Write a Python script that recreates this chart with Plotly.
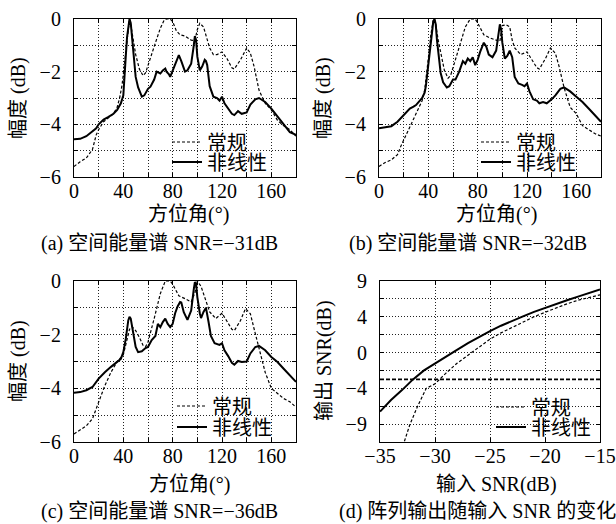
import plotly.graph_objects as go

# ---------------- data ----------------
# (a) SNR = -31 dB
a_conv_x = [0,5,10,13,15,18,20,24,28,32,35,37,39,40,42,44,45,46,48,50,53,56,58,60,65,70,73,75,78,80,83,86,90,95,98,100,102,105,108,110,113,116,120,124,128,130,135,140,143,146,150,155,160,165,170,175,180]
a_conv_y = [-5.6,-5.42,-5.28,-5.1,-4.95,-4.4,-4.2,-3.9,-3.75,-3.6,-3.35,-3.0,-2.5,-2.05,-1.1,-0.25,0,-0.2,-0.85,-1.35,-1.9,-2.15,-2.05,-1.75,-1.05,-0.35,-0.05,0,0,-0.1,-0.45,-0.6,-0.65,-0.8,-0.82,-0.4,-0.16,-0.3,-0.8,-1.1,-1.35,-1.35,-1.25,-1.5,-1.85,-1.9,-1.55,-1.1,-1.3,-1.8,-2.7,-3.2,-3.45,-3.85,-4.05,-4.2,-4.45]
a_nl_x = [0,5,10,15,18,20,24,28,32,35,37,38,40,41,42,43,44,45,46,47,48,50,52,55,57,60,62,65,67,70,72,74,75,77,78,80,82,85,87,90,92,95,97,98,99,100,102,104,106,107,108,110,113,116,118,120,122,125,128,130,133,136,140,143,147,150,155,160,165,170,175,180]
a_nl_y = [-4.57,-4.55,-4.45,-4.25,-4.15,-4.0,-3.82,-3.72,-3.6,-3.45,-3.3,-3.2,-2.9,-2.3,-1.4,-0.7,-0.2,0,-0.15,-0.65,-1.3,-2.2,-2.6,-2.95,-2.9,-2.65,-2.57,-2.3,-2.0,-2.07,-1.95,-1.88,-2.0,-2.1,-2.2,-1.95,-1.7,-1.37,-1.6,-2.0,-1.95,-1.7,-1.05,-0.65,-0.8,-1.43,-1.95,-1.8,-1.55,-1.6,-1.75,-2.55,-2.95,-3.0,-3.1,-2.95,-3.2,-3.4,-3.6,-3.65,-3.5,-3.6,-3.55,-3.25,-3.05,-3.0,-3.15,-3.4,-3.7,-4.0,-4.3,-4.4]

# (b) SNR = -32 dB
b_conv_x = [0,5,10,15,18,20,25,30,35,37,39,40,42,44,45,46,48,50,53,56,58,60,65,70,74,78,80,85,90,95,98,100,103,106,108,110,115,120,124,128,130,135,139,143,146,150,155,160,165,170,175,180]
b_conv_y = [-5.6,-5.45,-5.35,-5.15,-4.8,-4.6,-4.1,-3.6,-3.1,-2.7,-2.0,-1.5,-0.6,-0.05,0,-0.2,-0.8,-1.3,-1.95,-2.25,-2.15,-1.85,-1.05,-0.3,0,0,-0.15,-0.6,-0.72,-0.8,-0.85,-0.25,-0.22,-0.3,-0.8,-1.1,-1.35,-1.25,-1.55,-1.85,-1.9,-1.5,-1.1,-1.3,-1.8,-2.6,-3.35,-3.6,-4.05,-4.2,-4.35,-4.45]
b_nl_x = [0,5,10,15,20,25,28,30,35,37,38,40,41,42,43,44,45,46,47,48,50,52,55,57,60,62,65,68,70,72,74,76,78,80,82,85,87,89,92,95,97,98,99,100,102,104,106,108,110,113,116,118,120,122,125,128,130,133,136,140,143,147,150,155,160,165,170,175,180]
b_nl_y = [-4.15,-4.12,-4.07,-3.9,-3.65,-3.4,-3.33,-3.27,-3.0,-2.8,-2.55,-1.8,-1.3,-0.9,-0.45,-0.1,0,-0.2,-0.8,-1.3,-2.05,-2.4,-2.6,-2.55,-2.3,-2.3,-2.0,-1.6,-1.7,-1.5,-1.6,-1.45,-1.75,-1.55,-1.25,-0.9,-1.05,-1.35,-1.45,-1.2,-0.55,-0.2,-0.4,-0.9,-1.5,-1.4,-1.2,-1.45,-2.2,-2.45,-2.5,-2.55,-2.45,-2.75,-3.05,-3.1,-3.2,-3.15,-3.2,-3.05,-2.9,-2.65,-2.6,-2.75,-2.95,-3.15,-3.4,-3.65,-3.9]

# (c) SNR = -36 dB
c_conv_x = [0,5,10,15,20,25,30,35,40,43,45,47,50,53,56,58,60,65,70,74,78,80,85,90,95,98,100,103,105,108,110,115,120,124,128,130,135,139,143,146,150,155,160,165,170,175,180]
c_conv_y = [-5.7,-5.55,-5.4,-5.13,-4.5,-3.9,-3.4,-3.0,-2.75,-2.2,-1.8,-1.7,-1.85,-2.1,-2.4,-2.45,-2.27,-1.4,-0.47,0,0,-0.12,-0.55,-0.66,-0.78,-0.45,0,-0.2,-0.45,-0.9,-1.15,-1.4,-1.2,-1.5,-1.8,-1.85,-1.47,-1.03,-1.22,-1.78,-2.52,-3.4,-4.0,-4.2,-4.38,-4.5,-4.7]
c_nl_x = [0,5,10,15,20,25,30,35,38,40,42,44,45,46,47,48,50,52,55,58,60,63,66,68,70,72,74,76,78,80,82,84,86,87,89,92,95,97,98,99,100,102,103,105,107,109,111,114,118,120,122,125,128,130,133,136,140,143,147,150,155,160,165,170,175,180]
c_nl_y = [-4.16,-4.14,-4.07,-3.95,-3.64,-3.4,-3.2,-3.02,-2.9,-2.65,-2.15,-1.47,-1.33,-1.4,-1.65,-1.96,-2.46,-2.65,-2.62,-2.5,-2.46,-2.2,-2.05,-1.6,-1.72,-1.53,-1.4,-1.6,-1.72,-1.6,-1.2,-0.95,-0.78,-0.8,-1.16,-1.45,-1.1,-0.35,-0.04,-0.1,-0.6,-1.2,-1.38,-1.15,-1.0,-1.5,-2.05,-2.32,-2.38,-2.32,-2.58,-2.8,-3.05,-3.12,-2.98,-3.02,-3.0,-2.7,-2.46,-2.42,-2.58,-2.83,-3.02,-3.27,-3.52,-3.76]

# (d) output SNR vs input SNR
d_conv_x = [-33.0,-32.8,-32.3,-31.6,-30.8,-30,-29,-28,-27,-26,-25,-24,-23,-22,-21,-20,-19,-18,-17,-16,-15]
d_conv_y = [-11.0,-10.0,-8.1,-6.05,-4.0,-3.5,-2.3,-1.2,-0.3,0.6,1.5,2.2,2.8,3.4,4.0,4.5,5.0,5.45,5.85,6.15,6.45]
d_nl_x = [-35,-34,-33,-32,-31,-30,-29,-28,-27,-26,-25,-24,-23,-22,-21,-20,-19,-18,-17,-16,-15]
d_nl_y = [-6.6,-5.3,-4.2,-3.0,-2.0,-1.2,-0.45,0.3,1.05,1.75,2.4,3.0,3.55,4.05,4.55,5.0,5.45,5.85,6.25,6.65,7.05]
d_thr_x = [-35, -15]
d_thr_y = [-3, -3]

d_ytick_vals = [8, 4, 0, -4, -8]
d_ytick_text = ["9", "4", "0", "\u22124", "\u22129"]

names = ["常规", "非线性"]
captions = ["(a) 空间能量谱 SNR=\u221231dB", "(b) 空间能量谱 SNR=\u221232dB",
            "(c) 空间能量谱 SNR=\u221236dB", "(d) 阵列输出随输入 SNR 的变化"]
xtitles = ["方位角(°)", "方位角(°)", "方位角(°)", "输入 SNR(dB)"]
ytitles = ["幅度 (dB)", "幅度 (dB)", "幅度 (dB)", "输出 SNR(dB)"]

# ---------------- layout geometry (pixels) ----------------
W, H = 616, 524
FONT = "Liberation Serif, Noto Sans CJK SC, serif"
FS = 20
GRID = "#222"
boxes = [(74, 296, 19, 177), (379, 601, 19, 177), (74, 296, 281, 442), (380, 600, 281, 442)]

def px(x):
    return x / W

def py(y):
    return 1 - y / H

fig = go.Figure()

spectra = [(a_conv_x, a_conv_y, a_nl_x, a_nl_y),
           (b_conv_x, b_conv_y, b_nl_x, b_nl_y),
           (c_conv_x, c_conv_y, c_nl_x, c_nl_y),
           (d_conv_x, d_conv_y, d_nl_x, d_nl_y)]

for i, (cx, cy, nx, ny) in enumerate(spectra):
    ax = "" if i == 0 else str(i + 1)
    fig.add_trace(go.Scatter(x=cx, y=cy, mode="lines", name=names[0],
                             line=dict(color="black", width=1.2, dash="3px,2px"),
                             xaxis="x" + ax, yaxis="y" + ax,
                             legend="legend" + ("" if i == 0 else str(2 * i + 1))))
    fig.add_trace(go.Scatter(x=nx, y=ny, mode="lines", name=names[1],
                             line=dict(color="black", width=2),
                             xaxis="x" + ax, yaxis="y" + ax,
                             legend="legend" + str(2 * i + 2)))

fig.add_trace(go.Scatter(x=d_thr_x, y=d_thr_y, mode="lines", showlegend=False,
                         line=dict(color="black", width=1.6, dash="4px,2px"),
                         xaxis="x4", yaxis="y4"))

minor_common = dict(showgrid=True, gridcolor=GRID, gridwidth=1, griddash="1px,2px",
                    ticks="inside", ticklen=4, tickcolor="black")
common = dict(showline=True, mirror="ticks", linecolor="black", linewidth=1.2,
              ticks="inside", ticklen=4, tickcolor="black", tickwidth=1,
              showgrid=True, gridcolor=GRID, gridwidth=1, griddash="1px,2px",
              zeroline=False, tickfont=dict(family=FONT, size=FS, color="black"))

layout = dict(width=W, height=H, margin=dict(l=0, r=0, t=0, b=0, autoexpand=False),
              paper_bgcolor="white", plot_bgcolor="white", showlegend=True)

for i, (x0, x1, y0, y1) in enumerate(boxes):
    ax = "" if i == 0 else str(i + 1)
    xa = dict(common, domain=[px(x0), px(x1)], anchor="y" + ax, ticklabelstandoff=-4)
    ya = dict(common, domain=[py(y1), py(y0)], anchor="x" + ax, ticklabelstandoff=8)
    if i < 3:
        xa.update(range=[0, 180], tick0=0, dtick=40, minor=dict(minor_common, tick0=0, dtick=20))
        ya.update(range=[-6, 0], tick0=0, dtick=2, minor=dict(minor_common, tick0=0, dtick=1))
    else:
        xa.update(range=[-35, -15], tick0=-35, dtick=5)
        ya.update(range=[-10, 8], tickmode="array", tickvals=d_ytick_vals, ticktext=d_ytick_text,
                  minor=dict(minor_common, tick0=0, dtick=2))
    layout["xaxis" + ax] = xa
    layout["yaxis" + ax] = ya

# legends: one entry each, placed in lower right of each panel
leg_pos = [(209, 142), (209, 162), (518, 142), (518, 162),
           (214, 406), (214, 427), (533, 407), (533, 427)]
for k, (tx, ty) in enumerate(leg_pos):
    key = "legend" if k == 0 else "legend" + str(k + 1)
    layout[key] = dict(x=px(tx - 42), y=py(ty), xanchor="left", yanchor="middle",
                       bgcolor="rgba(0,0,0,0)", borderwidth=0,
                       font=dict(family=FONT, size=FS, color="black"))

ann = []
xt_pos = [(188, 215), (496, 215), (189, 484), (497, 484)]
yt_pos = [(18, 98), (323, 98), (18, 361), (324, 361)]
cap_pos = [(160, 243), (468, 243), (160, 511), (477, 511)]
for i in range(4):
    ann.append(dict(text=xtitles[i], x=px(xt_pos[i][0]), y=py(xt_pos[i][1]), xref="paper", yref="paper",
                    showarrow=False, xanchor="center", yanchor="middle",
                    font=dict(family=FONT, size=FS, color="black")))
    ann.append(dict(text=ytitles[i], x=px(yt_pos[i][0]), y=py(yt_pos[i][1]), xref="paper", yref="paper",
                    showarrow=False, xanchor="center", yanchor="middle", textangle=-90,
                    font=dict(family=FONT, size=FS, color="black")))
    ann.append(dict(text=captions[i], x=px(cap_pos[i][0]), y=py(cap_pos[i][1]), xref="paper", yref="paper",
                    showarrow=False, xanchor="center", yanchor="middle",
                    font=dict(family=FONT, size=FS, color="black")))
layout["annotations"] = ann

fig.update_layout(**layout)
fig.write_html("out.html",
               config={"displayModeBar": False},
               post_script="document.body.style.margin='0';document.body.style.padding='0';"
                           "document.documentElement.style.overflow='hidden';")
